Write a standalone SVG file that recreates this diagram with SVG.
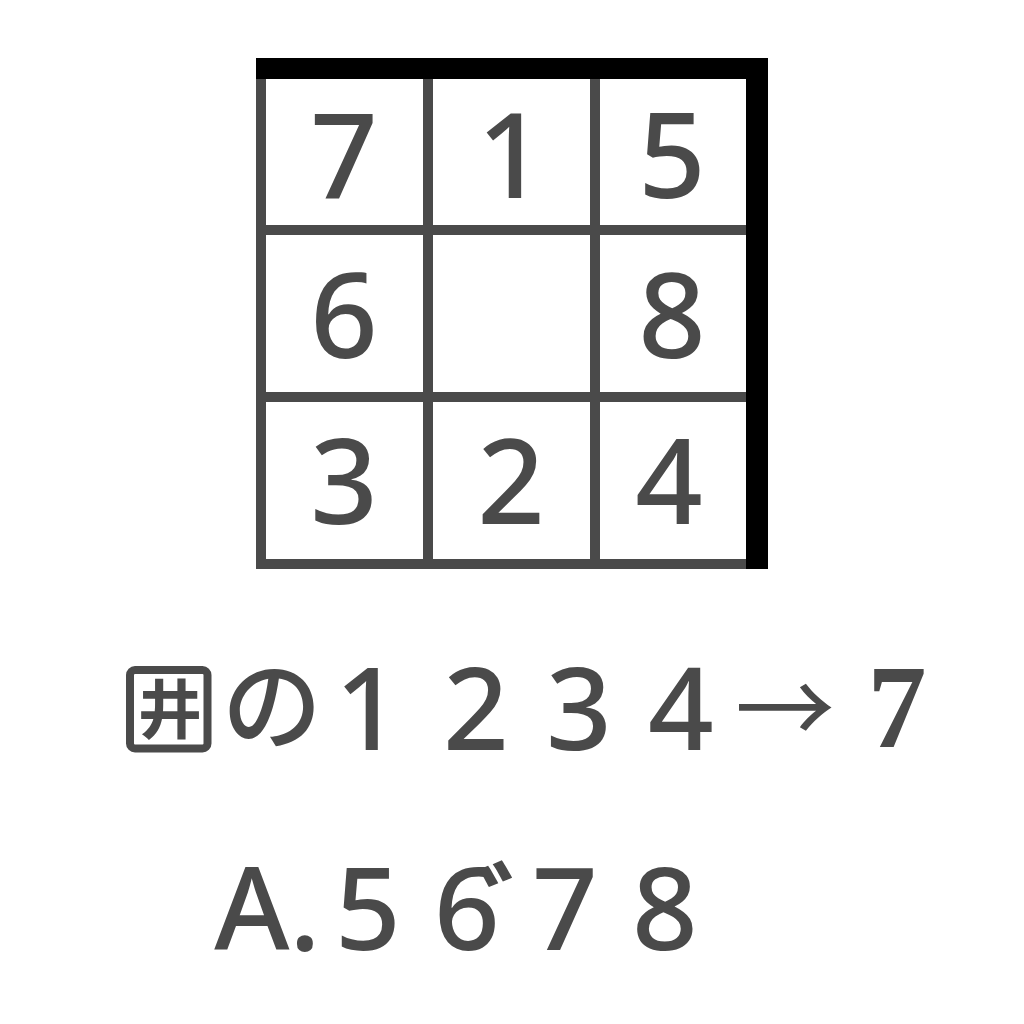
<svg xmlns="http://www.w3.org/2000/svg" width="1024" height="1024" viewBox="0 0 1024 1024">
<style>
.g{stroke:#4a4a4a;stroke-width:10;fill:none}
.d{font-family:"Noto Sans","Noto Sans CJK JP",sans-serif;font-size:118px;font-weight:500;fill:#4a4a4a;text-anchor:middle}
.t{font-family:"Noto Sans","Noto Sans CJK JP",sans-serif;font-size:115px;font-weight:500;fill:#4a4a4a;text-anchor:middle}
.j{font-family:"Noto Sans CJK JP",sans-serif;fill:#4a4a4a;text-anchor:middle}
</style>
<rect width="1024" height="1024" fill="#fff"/>
<g id="grid">
<path class="g" d="M261 58V569M428 58V569M595 58V569M256 230H768M256 397H768M256 564H768"/>
<rect x="256" y="58" width="512" height="21" fill="#000"/>
<rect x="746" y="58" width="22" height="511" fill="#000"/>
</g>
<g id="cell-r1c1"><text class="d" x="344" y="198">7</text></g>
<g id="cell-r1c2"><text class="d" x="511" y="198">1</text></g>
<g id="cell-r1c3"><text class="d" x="672" y="198">5</text></g>
<g id="cell-r2c1"><text class="d" x="344" y="358">6</text></g>
<g id="cell-r2c2"></g>
<g id="cell-r2c3"><text class="d" x="672" y="358">8</text></g>
<g id="cell-r3c1"><text class="d" x="344" y="524">3</text></g>
<g id="cell-r3c2"><text class="d" x="511" y="524">2</text></g>
<g id="cell-r3c3"><text class="d" x="669" y="524">4</text></g>
<g id="line1">
<rect x="130" y="670" width="77.5" height="78.5" rx="5" fill="none" stroke="#4a4a4a" stroke-width="8"/>
<text class="j" x="170" y="733" font-size="64" font-weight="700">井</text>
<text class="j" x="272" y="742" font-size="100" font-weight="500">の</text>
<text class="t" y="750"><tspan x="368">1</tspan><tspan x="476">2</tspan><tspan x="579">3</tspan><tspan x="681">4</tspan></text>
<text class="j" x="785" y="745" font-size="100">→</text>
<text x="897" y="747" font-family="'Liberation Serif',serif" font-weight="bold" font-size="118" fill="#4a4a4a" text-anchor="middle">7</text>
</g>
<g id="line2">
<text class="t" y="950" font-size="109"><tspan x="252">A</tspan><tspan x="305">.</tspan><tspan x="368">5</tspan><tspan x="467">6</tspan><tspan x="478" y="950" font-size="105" font-family="'Noto Sans CJK JP',sans-serif" font-weight="700" text-anchor="start">゛</tspan><tspan x="565" y="950">7</tspan><tspan x="665">8</tspan></text>
</g>
</svg>
